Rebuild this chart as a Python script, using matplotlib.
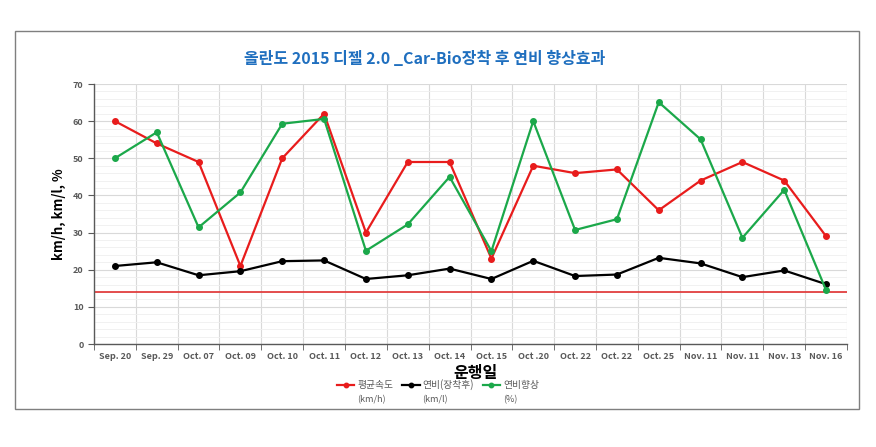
import numpy as np
import matplotlib
matplotlib.use('Agg')
import matplotlib.pyplot as plt
from matplotlib.patches import Rectangle
from matplotlib.ticker import MultipleLocator, FixedLocator

plt.rcParams['font.family'] = ['Noto Sans CJK KR', 'DejaVu Sans']

# data
dates = ['Sep. 20', 'Sep. 29', 'Oct. 07', 'Oct. 09', 'Oct. 10', 'Oct. 11',
         'Oct. 12', 'Oct. 13', 'Oct. 14', 'Oct. 15', 'Oct .20', 'Oct. 22',
         'Oct. 22', 'Oct. 25', 'Nov. 11', 'Nov. 11', 'Nov. 13', 'Nov. 16']
avg_speed = [60, 54, 49, 21, 50, 62, 30, 49, 49, 23, 48, 46, 47, 36, 44, 49, 44, 29]
fuel_eff = [21.0, 22.0, 18.5, 19.6, 22.3, 22.5, 17.5, 18.5, 20.3, 17.5,
            22.4, 18.3, 18.7, 23.2, 21.7, 18.0, 19.8, 16.1]
improve = [50, 57, 31.4, 40.8, 59.3, 60.6, 25.1, 32.2, 45.0, 25.0,
           60.0, 30.7, 33.6, 65.1, 55.1, 28.6, 41.5, 14.5]
baseline = 14

series_names = ['평균속도', '연비(장착후)', '연비향상']
series_units = ['(km/h)', '(km/l)', '(%)']
series_colors = ['#E81C1C', '#000000', '#1BA84A']

title = '올란도 2015 디젤 2.0 _Car-Bio장착 후 연비 향상효과'

fig = plt.figure(figsize=(8.76, 4.47), dpi=100)
fig.patches.append(Rectangle((15 / 876, 1 - 409 / 447), 844 / 876, 378 / 447,
                             transform=fig.transFigure, fill=False,
                             edgecolor='#7f7f7f', linewidth=1.0))

ax = fig.add_axes([94 / 876, 1 - 344 / 447, 753 / 876, 260 / 447])
x = np.arange(len(dates))

ax.axhline(baseline, color='#E03030', linewidth=1.2, zorder=2)

handles = []
for vals, col in zip([avg_speed, fuel_eff, improve], series_colors):
    h, = ax.plot(x, vals, color=col, linewidth=1.6, marker='o',
                 markersize=4, zorder=3)
    handles.append(h)

ax.set_xlim(-0.5, len(dates) - 0.5)
ax.set_ylim(0, 70)
ax.yaxis.set_major_locator(MultipleLocator(10))
ax.yaxis.set_minor_locator(MultipleLocator(2))
ax.set_xticks(x)
ax.set_xticklabels(dates)
ax.xaxis.set_minor_locator(FixedLocator(np.arange(-0.5, len(dates), 1)))

ax.grid(which='major', axis='y', color='#d9d9d9', linewidth=0.8)
ax.grid(which='minor', axis='y', color='#efefef', linewidth=0.6)
ax.grid(which='minor', axis='x', color='#d9d9d9', linewidth=0.8)
ax.set_axisbelow(True)

for s in ['top', 'right']:
    ax.spines[s].set_visible(False)
for s in ['left', 'bottom']:
    ax.spines[s].set_color('#595959')
    ax.spines[s].set_linewidth(1.0)

ax.tick_params(axis='x', which='major', length=0, labelsize=6.5,
               labelcolor='#595959', pad=6)
ax.tick_params(axis='x', which='minor', length=4, direction='out', color='#595959')
ax.tick_params(axis='y', which='major', length=4, direction='out', color='#595959',
               labelsize=6.5, labelcolor='#595959')
ax.tick_params(axis='y', which='minor', length=0)
for lab in ax.get_xticklabels() + ax.get_yticklabels():
    lab.set_fontweight('bold')

ax.set_ylabel('km/h, km/l, %', fontsize=9.5, fontweight='bold', labelpad=5)
fig.text(475 / 876, 1 - 373 / 447, '운행일', fontsize=11.5, fontweight='bold',
         ha='center', va='center')
fig.text(425 / 876, 1 - 59 / 447, title, fontsize=11.5, fontweight='bold',
         color='#1F6FBF', ha='center', va='center')

leg = fig.legend(handles, series_names, loc='center', ncol=3,
                 bbox_to_anchor=(438 / 876, 1 - 385 / 447), frameon=False,
                 fontsize=7, handlelength=1.8, handletextpad=0.3,
                 columnspacing=0.9, labelcolor='#595959', markerscale=0.8)

fig.canvas.draw()
r = fig.canvas.get_renderer()
for txt, unit in zip(leg.get_texts(), series_units):
    bb = txt.get_window_extent(r)
    fig.text(bb.x0 / fig.bbox.width, (bb.y0 - 9) / fig.bbox.height, unit,
             fontsize=6.5, color='#595959', ha='left', va='center')

fig.savefig('out.png', dpi=100, facecolor='white')
